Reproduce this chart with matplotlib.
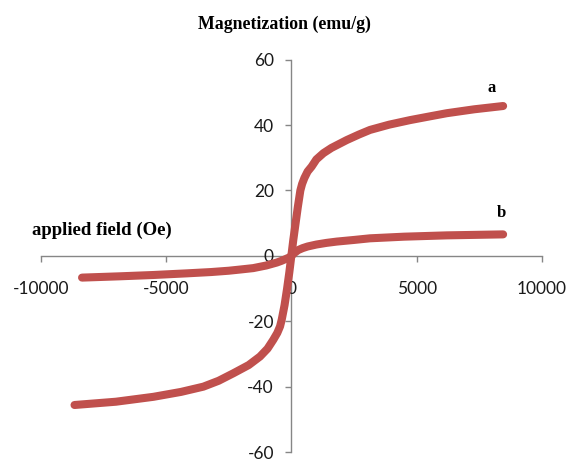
import matplotlib.pyplot as plt

plt.rcParams['axes.unicode_minus'] = False

# --- Data: magnetization curves (field in Oe, M in emu/g) ---
field_a = [-8650, -7000, -5500, -4400, -3510, -2900, -2310, -1700, -1250, -950,
           -720, -560, -450, -385, -270, -170, -80, 0,
           80, 170, 260, 360, 430, 520, 650, 810, 1000, 1280, 1600, 2210, 2700,
           3140, 3900, 4740, 5500, 6200, 7300, 8450]
mag_a = [-45.5, -44.5, -43.0, -41.5, -39.9, -38.1, -35.8, -33.3, -30.7, -28.3,
         -25.6, -23.5, -21.5, -19.5, -15.0, -10.0, -5.0, 0.0,
         5.0, 10.0, 15.0, 20.0, 22.0, 23.8, 25.8, 27.3, 29.5, 31.4, 33.0, 35.4, 37.1,
         38.5, 40.1, 41.5, 42.6, 43.6, 44.8, 45.8]

field_b = [-8350, -6830, -5500, -4170, -3200, -2500, -2000, -1520, -1000, -720,
           -580, -400, -250, -100, 0,
           100, 270, 450, 650, 1000, 1400, 1810, 2500, 3140, 4500, 6200, 8450]
mag_b = [-6.6, -6.2, -5.8, -5.3, -4.9, -4.5, -4.1, -3.7, -2.9, -2.3,
         -2.0, -1.5, -1.0, -0.5, 0.0,
         0.8, 1.8, 2.4, 2.9, 3.5, 4.0, 4.4, 4.9, 5.4, 5.9, 6.3, 6.6]

x_ticks = [-10000, -5000, 0, 5000, 10000]
y_ticks = [-60, -40, -20, 0, 20, 40, 60]

line_color = '#C0504D'
axis_color = '#868686'
serif = ['Liberation Serif', 'DejaVu Serif']

fig = plt.figure(figsize=(5.69, 4.62), dpi=100)
ax = fig.add_axes([0.0715, 0.0206, 0.881, 0.8506])

for xs, ys in [(field_a, mag_a), (field_b, mag_b)]:
    ax.plot(xs, ys, color=line_color, lw=5.8, solid_capstyle='round',
            solid_joinstyle='round', zorder=3)

ax.set_xlim(-10000, 10000)
ax.set_ylim(-60, 60)

# axes cross at the origin
ax.spines['left'].set_position(('data', 0))
ax.spines['bottom'].set_position(('data', 0))
ax.spines['right'].set_visible(False)
ax.spines['top'].set_visible(False)
for side in ['left', 'bottom']:
    ax.spines[side].set_color(axis_color)
    ax.spines[side].set_linewidth(1.0)
    ax.spines[side].set_zorder(1)

ax.set_xticks(x_ticks)
ax.set_yticks(y_ticks)
ax.tick_params(axis='x', direction='out', length=4, width=1, color=axis_color,
               pad=14, labelsize=12.5, labelcolor='#1a1a1a')
ax.tick_params(axis='y', direction='out', length=4.5, width=1, color=axis_color,
               pad=8, labelsize=12.5, labelcolor='#1a1a1a')
for lbl in ax.get_xticklabels() + ax.get_yticklabels():
    lbl.set_family('Lato')

ax.patch.set_visible(False)

# titles and curve labels
fig.text(0.50, 0.948, 'Magnetization (emu/g)', ha='center', va='center',
         family=serif, fontweight='bold', fontsize=12.8)
ax.text(-7550, 7.8, 'applied field (Oe)', ha='center', va='center',
        family=serif, fontweight='bold', fontsize=13.5)
ax.text(8000, 51.3, 'a', ha='center', va='center', family=serif,
        fontweight='bold', fontsize=12)
ax.text(8370, 13.1, 'b', ha='center', va='center', family=serif,
        fontweight='bold', fontsize=12)

plt.savefig('out.png', dpi=100)
